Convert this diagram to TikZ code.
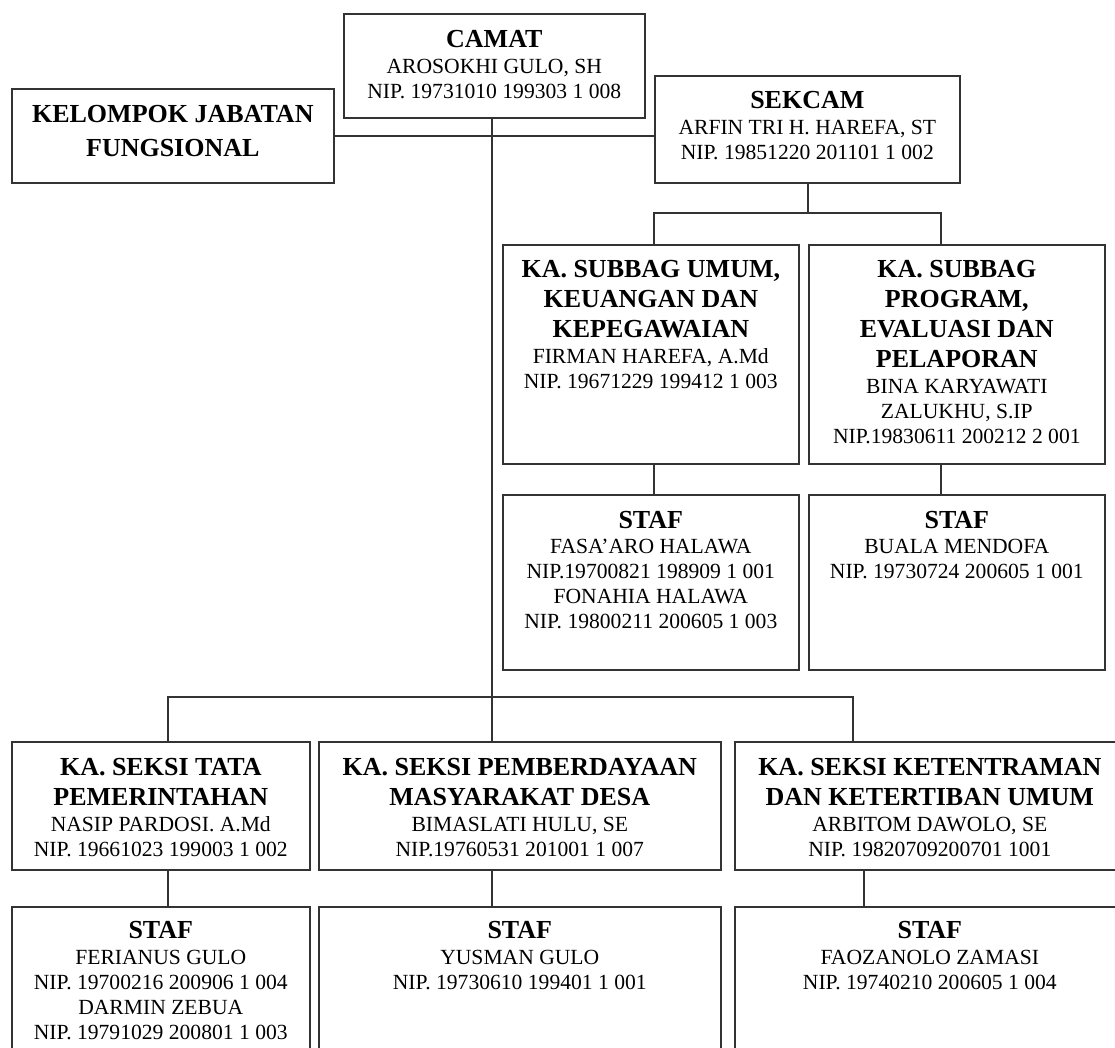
\documentclass[tikz,border=0pt]{standalone}
\usepackage{fontspec}
\setmainfont{Liberation Serif}
\usetikzlibrary{positioning,calc}

\newcommand{\jab}[1]{{\fontsize{26}{30}\selectfont\bfseries #1}}

\begin{document}
\begin{tikzpicture}[
    x=1pt, y=-1pt,
    box/.style={rectangle, draw=black!80, line width=1.6pt, anchor=north west, inner sep=0pt},
    txt/.style={align=center, inner sep=0pt, anchor=north, font=\fontsize{21.6}{25}\selectfont},
    link/.style={draw=black!80, line width=1.6pt},
]
    \useasboundingbox (0,0) rectangle (1115,1047);
    \clip (0,0) rectangle (1115,1047);

    % Pimpinan
    \node[box, minimum width=322pt, minimum height=94pt] (kjf) at (11,88) {};
    \node[box, minimum width=301pt, minimum height=104pt] (camat) at (343,13) {};
    \node[box, minimum width=305pt, minimum height=107pt] (sekcam) at (654,75) {};

    \node[txt] (kjf-t) at ([yshift=-17pt]kjf.north) {\jab{KELOMPOK JABATAN}\\[9pt]\jab{FUNGSIONAL}};
    \node[txt] (camat-t) at ([yshift=-17pt]camat.north) {\jab{CAMAT}\\[1.5pt]AROSOKHI GULO, SH\\NIP. 19731010 199303 1 008};
    \node[txt] (sekcam-t) at ([yshift=-16pt]sekcam.north) {\jab{SEKCAM}\\[1.5pt]ARFIN TRI H. HAREFA, ST\\NIP. 19851220 201101 1 002};

    % Subbagian
    \node[box, minimum width=296pt, minimum height=219pt] (umum) at (502,244) {};
    \node[box, minimum width=296pt, minimum height=219pt] (program) at (808,244) {};
    \node[box, minimum width=296pt, minimum height=175pt] (stafumum) at (502,494) {};
    \node[box, minimum width=296pt, minimum height=175pt] (stafprog) at (808,494) {};

    \node[txt] (umum-t) at ([yshift=-16pt]umum.north) {\jab{KA. SUBBAG UMUM,}\\[5pt]\jab{KEUANGAN DAN}\\[5pt]\jab{KEPEGAWAIAN}\\[1.5pt]FIRMAN HAREFA, A.Md\\NIP. 19671229 199412 1 003};
    \node[txt] (program-t) at ([yshift=-16pt]program.north) {\jab{KA. SUBBAG}\\[5pt]\jab{PROGRAM,}\\[5pt]\jab{EVALUASI DAN}\\[5pt]\jab{PELAPORAN}\\[1.5pt]BINA KARYAWATI\\ZALUKHU, S.IP\\NIP.19830611 200212 2 001};
    \node[txt] (stafumum-t) at ([yshift=-17pt]stafumum.north) {\jab{STAF}\\[0.5pt]FASA’ARO HALAWA\\NIP.19700821 198909 1 001\\FONAHIA HALAWA\\NIP. 19800211 200605 1 003};
    \node[txt] (stafprog-t) at ([yshift=-17pt]stafprog.north) {\jab{STAF}\\[0.5pt]BUALA MENDOFA\\NIP. 19730724 200605 1 001};

    % Seksi
    \node[box, minimum width=298pt, minimum height=128pt] (tata) at (11,741) {};
    \node[box, minimum width=402pt, minimum height=128pt] (pmd) at (318,741) {};
    \node[box, minimum width=390pt, minimum height=128pt] (trantib) at (734,741) {};
    \node[box, minimum width=298pt, minimum height=160pt] (staftata) at (11,906) {};
    \node[box, minimum width=402pt, minimum height=160pt] (stafpmd) at (318,906) {};
    \node[box, minimum width=390pt, minimum height=160pt] (staftrantib) at (734,906) {};

    \node[txt] (tata-t) at ([yshift=-17pt]tata.north) {\jab{KA. SEKSI TATA}\\[5pt]\jab{PEMERINTAHAN}\\[1pt]NASIP PARDOSI. A.Md\\NIP. 19661023 199003 1 002};
    \node[txt] (pmd-t) at ([yshift=-17pt]pmd.north) {\jab{KA. SEKSI PEMBERDAYAAN}\\[5pt]\jab{MASYARAKAT DESA}\\[1pt]BIMASLATI HULU, SE\\NIP.19760531 201001 1 007};
    \node[txt] (trantib-t) at ([yshift=-17pt]trantib.north) {\jab{KA. SEKSI KETENTRAMAN}\\[5pt]\jab{DAN KETERTIBAN UMUM}\\[1pt]ARBITOM DAWOLO, SE\\NIP. 19820709200701 1001};
    \node[txt] (staftata-t) at ([yshift=-15pt]staftata.north) {\jab{STAF}\\[1pt]FERIANUS GULO\\NIP. 19700216 200906 1 004\\DARMIN ZEBUA\\NIP. 19791029 200801 1 003};
    \node[txt] (stafpmd-t) at ([yshift=-15pt]stafpmd.north) {\jab{STAF}\\[1pt]YUSMAN GULO\\NIP. 19730610 199401 1 001};
    \node[txt] (staftrantib-t) at ([yshift=-15pt]staftrantib.north) {\jab{STAF}\\[1pt]FAOZANOLO ZAMASI\\NIP. 19740210 200605 1 004};

    % Garis komando
    \coordinate (camatdrop) at (492,0);
    \coordinate (sekdrop) at (808,0);
    \coordinate (subbusL) at (654,213);
    \coordinate (subbusR) at (941,213);
    \coordinate (seksibusL) at (168,697);
    \coordinate (seksibusR) at (853,697);
    \coordinate (trantibdrop) at (864,880);

    \draw[link] (camat.south -| camatdrop) -- (pmd.north -| camatdrop);
    \draw[link] (kjf.east) -- (kjf.east -| sekcam.west);
    \draw[link] (sekcam.south -| sekdrop) -- (subbusL -| sekdrop);
    \draw[link] (umum.north -| subbusL) |- (subbusR) -- (subbusR |- program.north);
    \draw[link] (umum.south -| subbusL) -- (stafumum.north -| subbusL);
    \draw[link] (program.south -| subbusR) -- (stafprog.north -| subbusR);
    \draw[link] (tata.north -| seksibusL) |- (seksibusR) -- (seksibusR |- trantib.north);
    \draw[link] (tata.south -| seksibusL) -- (staftata.north -| seksibusL);
    \draw[link] (pmd.south -| camatdrop) -- (stafpmd.north -| camatdrop);
    \draw[link] (trantib.south -| trantibdrop) -- (staftrantib.north -| trantibdrop);
\end{tikzpicture}
\end{document}
